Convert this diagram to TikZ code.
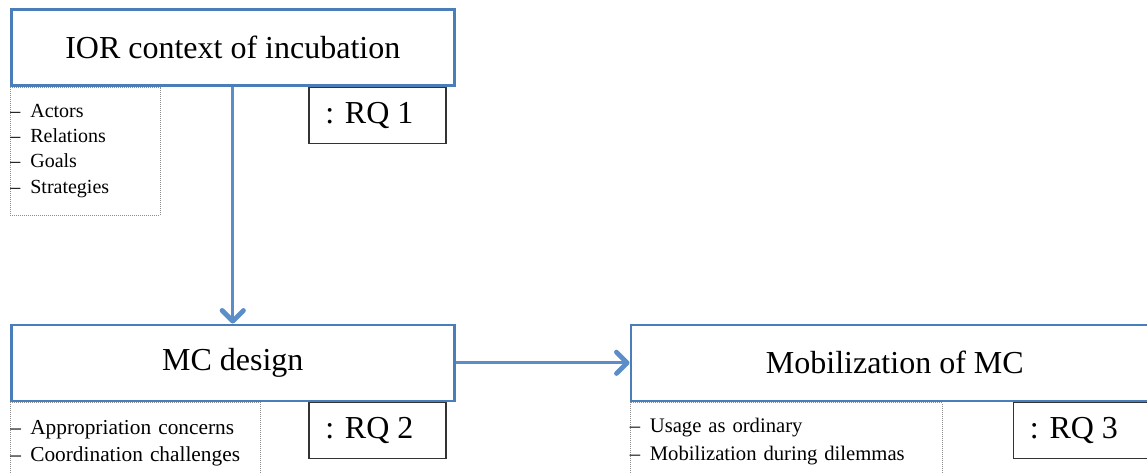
\documentclass[tikz,border=0pt]{standalone}
\usepackage{fontspec}
\setmainfont{Liberation Serif}
\usetikzlibrary{positioning,arrows.meta}

\definecolor{boxblue}{RGB}{74,126,187}
\definecolor{arrowblue}{RGB}{91,141,201}
\definecolor{dotgray}{RGB}{140,140,140}

\tikzset{
  stage/.style={draw=boxblue, line width=1.9pt, fill=white, minimum width=332.25pt, minimum height=57pt, font=\fontsize{24}{28}\selectfont},
  rq/.style={draw=black!80, line width=0.9pt, minimum width=102.75pt, minimum height=42pt, font=\fontsize{24}{28}\selectfont},
  items/.style={draw=dotgray, densely dotted, line width=0.5pt, align=left, inner xsep=0pt, font=\fontsize{15}{19}\selectfont},
  flow/.style={draw=arrowblue, line width=2pt, -{Straight Barb[length=8pt,width=16pt,line width=3.6pt,round]}}
}
\newcommand{\itm}[1]{\makebox[15pt][l]{–}#1}

\begin{document}
\begin{tikzpicture}
\useasboundingbox (0,0) rectangle (860.25pt,355.5pt);

%% stages
\node[stage, anchor=north west](ior) at (7.5pt,349.5pt){IOR context of incubation};
\node[stage, below=177.75pt of ior](mc_design){MC design};
\node[stage, right=130.5pt of mc_design, minimum width=396pt](mobil){Mobilization of MC};

%% dotted lists
\node[items, anchor=north west, text width=112.5pt, minimum height=96pt](ior_items) at (ior.south west){%
\itm{Actors}\\ \itm{Relations}\\ \itm{Goals}\\ \itm{Strategies}};
\node[items, anchor=north west, text width=187.5pt, minimum height=61.5pt, font=\fontsize{16}{20.5}\selectfont](mc_items) at (mc_design.south west){%
\itm{Appropriation concerns}\\ \itm{Coordination challenges}};
\node[items, anchor=north west, text width=234pt, minimum height=58.5pt, font=\fontsize{15.5}{20.5}\selectfont](mobil_items) at (mobil.south west){%
\itm{Usage as ordinary}\\ \itm{Mobilization during dilemmas}};

%% research questions
\node[rq, anchor=north east, xshift=-6.75pt](rq_one) at (ior.south east){: RQ 1\hspace*{12pt}};
\node[rq, anchor=north east, xshift=-6.75pt](rq_two) at (mc_design.south east){: RQ 2\hspace*{12pt}};
\node[rq, anchor=north east, xshift=-6.75pt](rq_three) at (mobil.south east){: RQ 3\hspace*{12pt}};

\draw[flow] (ior) -- (mc_design);
\draw[flow] (mc_design) -- (mobil);

\end{tikzpicture}
\end{document}
